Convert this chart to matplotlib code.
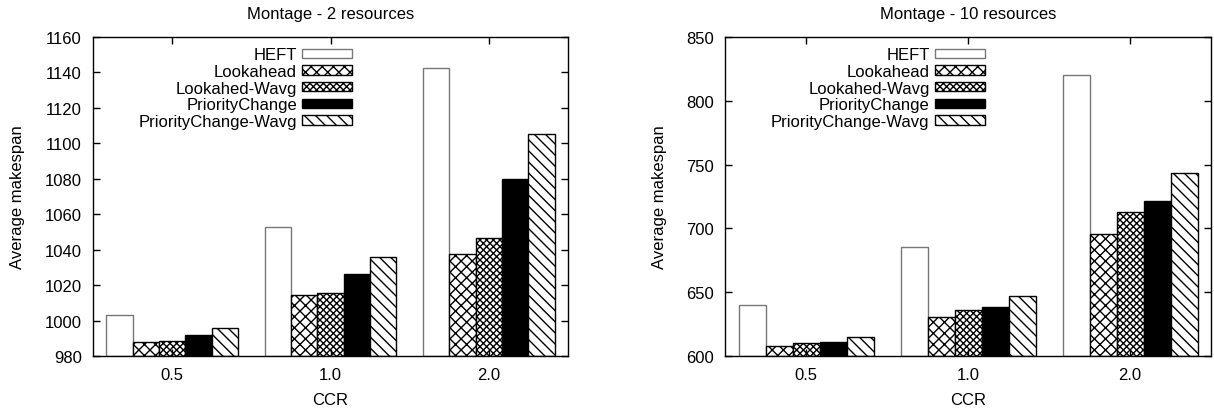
import numpy as np
import matplotlib
matplotlib.use("Agg")
import matplotlib.pyplot as plt

plt.rcParams['font.family'] = ['Liberation Sans', 'DejaVu Sans']
plt.rcParams['hatch.linewidth'] = 1.0

# データ
ccr = ["0.5", "1.0", "2.0"]
algorithms = ["HEFT", "Lookahead", "Lookahed-Wavg", "PriorityChange", "PriorityChange-Wavg"]

res2_heft = [1003.3, 1052.6, 1142.3]
res2_lookahead = [987.9, 1014.3, 1037.6]
res2_lookahead_wavg = [988.6, 1015.8, 1046.6]
res2_priority = [992.0, 1026.2, 1079.7]
res2_priority_wavg = [995.6, 1035.7, 1105.0]

res10_heft = [639.6, 685.5, 820.3]
res10_lookahead = [607.8, 630.5, 695.9]
res10_lookahead_wavg = [610.2, 635.7, 712.6]
res10_priority = [611.2, 638.6, 721.7]
res10_priority_wavg = [614.9, 646.7, 743.4]

# 棒のスタイル (塗り, 縁, ハッチ)
styles = [
    ("white", "#777777", None),
    ("white", "black", "xxx"),
    ("white", "black", "xxxxx"),
    ("black", "black", None),
    ("white", "black", "\\\\\\"),
]

fig = plt.figure(figsize=(12.14, 4.14), dpi=100)
ax1 = fig.add_axes([93 / 1214, 57 / 414, 475 / 1214, 319 / 414])
ax2 = fig.add_axes([725 / 1214, 57 / 414, 486 / 1214, 319 / 414])


def draw(ax, series, title, ymin, ymax, ystep, leg_x):
    group = np.arange(len(ccr)) * 6
    for j, (vals, name) in enumerate(zip(series, algorithms)):
        fc, ec, hatch = styles[j]
        heights = np.array(vals) - ymin
        ax.bar(group + 0.5 + j, heights, width=1.0, bottom=ymin, align="edge",
               facecolor=fc, edgecolor=ec, hatch=hatch, linewidth=1.0, label=name)
    ax.set_xlim(0, 18)
    ax.set_ylim(ymin, ymax)
    ax.set_xticks(group + 3)
    ax.set_xticklabels(ccr)
    ax.set_yticks(np.arange(ymin, ymax + 1, ystep))
    ax.tick_params(direction="in", length=5, width=1, top=True, right=True,
                   labelsize=12, pad=8)
    for s in ax.spines.values():
        s.set_linewidth(1.0)
    ax.set_title(title, fontsize=12, pad=14)
    ax.set_xlabel("CCR", fontsize=12, labelpad=7)
    ax.set_ylabel("Average makespan", fontsize=12, labelpad=14)
    ax.legend(loc="upper right", bbox_to_anchor=(leg_x, 0.968), frameon=False,
              markerfirst=False, fontsize=12, handlelength=3.0, handleheight=0.5,
              handletextpad=0.3, labelspacing=0.1, borderpad=0, borderaxespad=0)


draw(ax1, [res2_heft, res2_lookahead, res2_lookahead_wavg, res2_priority, res2_priority_wavg],
     "Montage - 2 resources", 980, 1160, 20, 0.545)
draw(ax2, [res10_heft, res10_lookahead, res10_lookahead_wavg, res10_priority, res10_priority_wavg],
     "Montage - 10 resources", 600, 850, 50, 0.534)

plt.savefig("out.png", dpi=100)
